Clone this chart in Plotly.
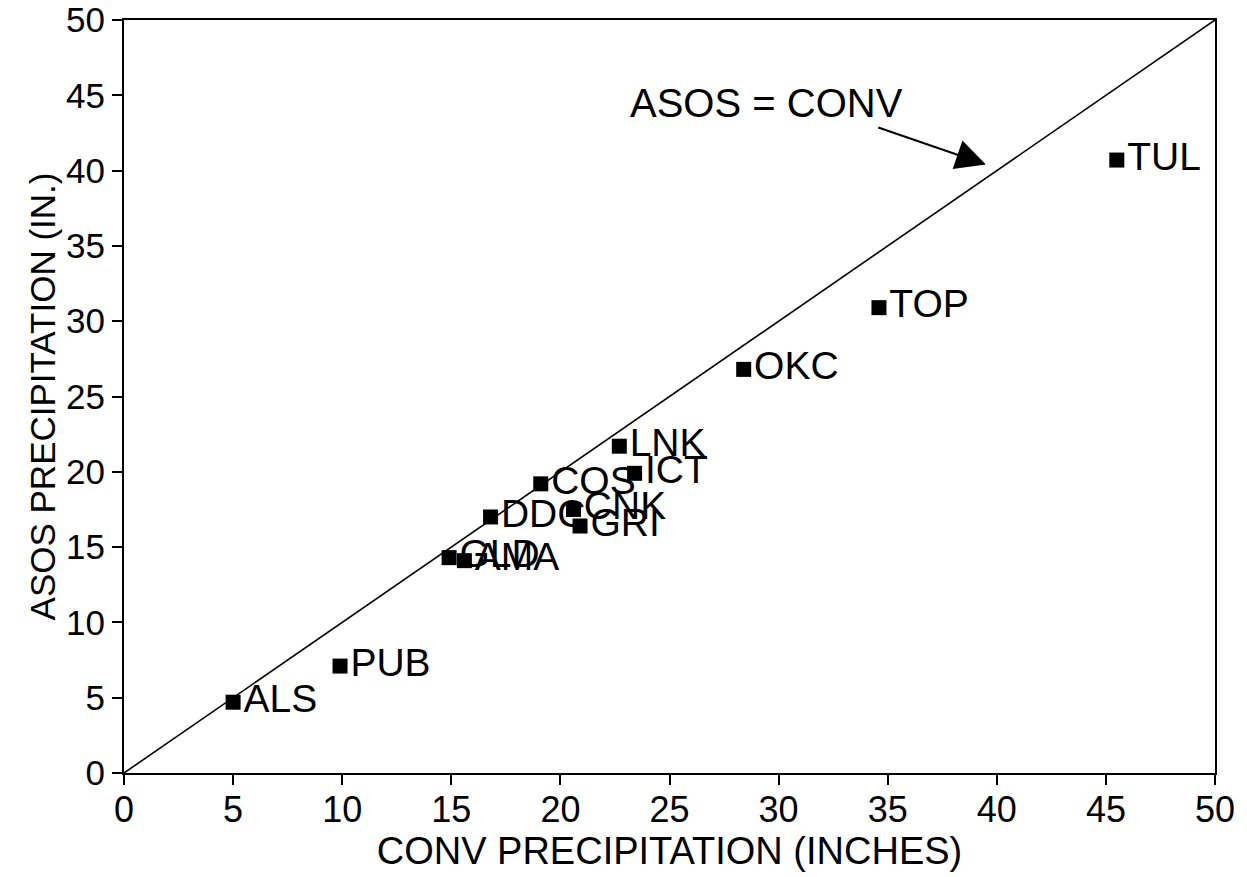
import plotly.graph_objects as go

stations = ["TUL", "TOP", "OKC", "LNK", "ICT", "COS", "CNK", "GRI", "DDC", "GLD", "AMA", "PUB", "ALS"]
conv = [45.5, 34.6, 28.4, 22.7, 23.4, 19.1, 20.6, 20.9, 16.8, 14.9, 15.6, 9.9, 5.0]
asos = [40.7, 30.9, 26.8, 21.7, 19.9, 19.2, 17.5, 16.4, 17.0, 14.3, 14.1, 7.1, 4.7]

x_ticks = [0, 5, 10, 15, 20, 25, 30, 35, 40, 45, 50]
y_ticks = [0, 5, 10, 15, 20, 25, 30, 35, 40, 45, 50]
diag = [0, 50]

FONT = "Liberation Sans, Arial, Helvetica, sans-serif"

fig = go.Figure()
fig.add_trace(go.Scatter(x=diag, y=diag, mode="lines",
                         line=dict(color="black", width=1.6), hoverinfo="skip"))
fig.add_trace(go.Scatter(x=conv, y=asos, mode="markers+text", text=stations,
                         textposition="middle right",
                         textfont=dict(family=FONT, size=39, color="black"),
                         marker=dict(symbol="square", size=15, color="black")))

fig.add_annotation(x=39.5, y=40.4, ax=34.5, ay=42.9, xref="x", yref="y", axref="x", ayref="y",
                   text="", showarrow=True, arrowhead=2, arrowsize=3, arrowwidth=2, arrowcolor="black")
fig.add_annotation(x=23.1, y=44.5, xref="x", yref="y", text="ASOS = CONV", showarrow=False,
                   font=dict(family=FONT, size=40, color="black"),
                   xanchor="left", yanchor="middle")

axis_common = dict(showgrid=False, zeroline=False, showline=True, linecolor="black", linewidth=2,
                   mirror=True, ticks="outside", ticklen=10, tickwidth=1.5, tickcolor="black",
                   range=[0, 50], automargin=False)
fig.update_xaxes(tickvals=x_ticks, ticktext=[str(v) for v in x_ticks],
                 tickfont=dict(family=FONT, size=36, color="black"),
                 ticklabelstandoff=-6,
                 title=dict(text="CONV PRECIPITATION (INCHES)", standoff=0,
                            font=dict(family=FONT, size=38, color="black")),
                 **axis_common)
fig.update_yaxes(tickvals=y_ticks, ticktext=[str(v) for v in y_ticks],
                 tickfont=dict(family=FONT, size=35, color="black"),
                 title=dict(text="ASOS PRECIPITATION (IN.)", standoff=0,
                            font=dict(family=FONT, size=35, color="black")),
                 **axis_common)

fig.update_layout(width=1247, height=877, margin=dict(l=124, r=32, t=20, b=104, autoexpand=False),
                  plot_bgcolor="white", paper_bgcolor="white", showlegend=False)

fig.write_html("out.html")
